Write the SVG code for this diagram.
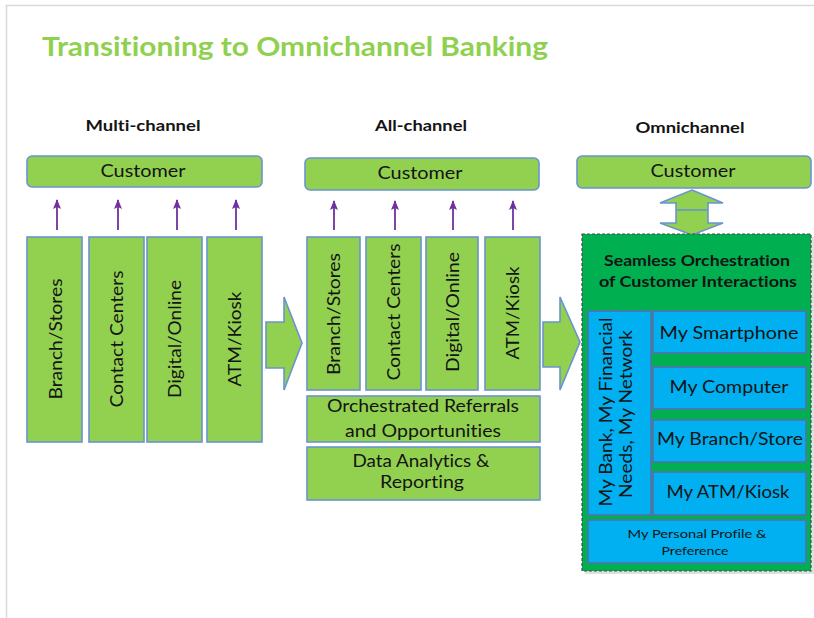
<svg xmlns="http://www.w3.org/2000/svg" width="814" height="618" viewBox="0 0 814 618">
<defs>
<style>
text{font-family:Lato,"Open Sans","Liberation Sans",sans-serif;fill:#141414;font-variant-ligatures:none}
.title{font-size:27px;font-weight:bold;fill:#8FD14F}
.hdr{font-size:16px;font-weight:bold;text-anchor:middle}
.lg{fill:#92D050;stroke:#6A94CF;stroke-width:1.6}
.bl{fill:#00B0F0;stroke:#5470B0;stroke-width:1.6}
.t17{font-size:17px;text-anchor:middle}
.t18{font-size:18px;text-anchor:middle}
.sm{font-size:12px;text-anchor:middle}
.sb{font-size:15px;font-weight:bold;text-anchor:middle}
.parr{stroke:#7030A0;stroke-width:1.8;fill:none}
.blk{fill:#92D050;stroke:#6A94CF;stroke-width:1.6;stroke-linejoin:miter}
</style>
<marker id="ah" viewBox="0 0 10 10" refX="9" refY="5" markerWidth="10" markerHeight="10" markerUnits="userSpaceOnUse" orient="auto">
<path d="M0,1 L10,5 L0,9 L2,5 Z" fill="#7030A0"/>
</marker>
</defs>
<rect x="0" y="0" width="814" height="618" fill="#ffffff"/>
<rect x="6.5" y="5.5" width="900" height="700" fill="none" stroke="#d9d9d9" stroke-width="1.5"/>
<text class="title" x="42" y="56" textLength="506" lengthAdjust="spacingAndGlyphs">Transitioning to Omnichannel Banking</text>

<text class="hdr" x="143" y="131" textLength="115" lengthAdjust="spacingAndGlyphs">Multi-channel</text>
<text class="hdr" x="421" y="131" textLength="92" lengthAdjust="spacingAndGlyphs">All-channel</text>
<text class="hdr" x="690" y="133" textLength="109" lengthAdjust="spacingAndGlyphs">Omnichannel</text>

<g id="multi-customer"><rect class="lg" x="27" y="156" width="235" height="31" rx="5"/><text class="t17" x="143" y="177" textLength="85" lengthAdjust="spacingAndGlyphs">Customer</text></g>
<g id="all-customer"><rect class="lg" x="305" y="158" width="234" height="32" rx="5"/><text class="t17" x="420" y="179" textLength="85" lengthAdjust="spacingAndGlyphs">Customer</text></g>
<g id="omni-customer"><rect class="lg" x="577" y="156" width="234" height="32" rx="5"/><text class="t17" x="693" y="177" textLength="85" lengthAdjust="spacingAndGlyphs">Customer</text></g>

<g id="m-branch"><rect class="lg" x="27" y="237" width="55" height="205"/><text class="t18" transform="translate(62,339) rotate(-90)" textLength="121" lengthAdjust="spacingAndGlyphs">Branch/Stores</text></g>
<g id="m-contact"><rect class="lg" x="89" y="237" width="55" height="205"/><text class="t18" transform="translate(123,339) rotate(-90)" textLength="137" lengthAdjust="spacingAndGlyphs">Contact Centers</text></g>
<g id="m-digital"><rect class="lg" x="147" y="237" width="55" height="205"/><text class="t18" transform="translate(181,339) rotate(-90)" textLength="118" lengthAdjust="spacingAndGlyphs">Digital/Online</text></g>
<g id="m-atm"><rect class="lg" x="207" y="237" width="55" height="205"/><text class="t18" transform="translate(241,339) rotate(-90)" textLength="95" lengthAdjust="spacingAndGlyphs">ATM/Kiosk</text></g>

<g id="a-branch"><rect class="lg" x="307" y="237" width="53" height="153"/><text class="t18" transform="translate(340,314) rotate(-90)" textLength="122" lengthAdjust="spacingAndGlyphs">Branch/Stores</text></g>
<g id="a-contact"><rect class="lg" x="366" y="237" width="55" height="153"/><text class="t18" transform="translate(400,312) rotate(-90)" textLength="137" lengthAdjust="spacingAndGlyphs">Contact Centers</text></g>
<g id="a-digital"><rect class="lg" x="426" y="237" width="52" height="153"/><text class="t18" transform="translate(459,312) rotate(-90)" textLength="120" lengthAdjust="spacingAndGlyphs">Digital/Online</text></g>
<g id="a-atm"><rect class="lg" x="485" y="237" width="55" height="153"/><text class="t18" transform="translate(519,313) rotate(-90)" textLength="93" lengthAdjust="spacingAndGlyphs">ATM/Kiosk</text></g>
<g id="a-orchestrated"><rect class="lg" x="307" y="396" width="233" height="46"/><text class="t17" x="423" y="412" textLength="192" lengthAdjust="spacingAndGlyphs">Orchestrated Referrals</text><text class="t17" x="423" y="437" textLength="156" lengthAdjust="spacingAndGlyphs">and Opportunities</text></g>
<g id="a-data"><rect class="lg" x="307" y="447" width="233" height="53"/><text class="t17" x="421" y="467" textLength="137" lengthAdjust="spacingAndGlyphs">Data Analytics &amp;</text><text class="t17" x="422" y="488" textLength="84" lengthAdjust="spacingAndGlyphs">Reporting</text></g>

<g id="connectors">
<line class="parr" x1="57" y1="230" x2="57" y2="200" marker-end="url(#ah)"/>
<line class="parr" x1="118" y1="230" x2="118" y2="200" marker-end="url(#ah)"/>
<line class="parr" x1="177" y1="230" x2="177" y2="200" marker-end="url(#ah)"/>
<line class="parr" x1="236" y1="230" x2="236" y2="200" marker-end="url(#ah)"/>
<line class="parr" x1="334" y1="230" x2="334" y2="201" marker-end="url(#ah)"/>
<line class="parr" x1="395" y1="230" x2="395" y2="201" marker-end="url(#ah)"/>
<line class="parr" x1="453" y1="230" x2="453" y2="201" marker-end="url(#ah)"/>
<line class="parr" x1="513" y1="230" x2="513" y2="201" marker-end="url(#ah)"/>
<polygon class="blk" points="266,322 284,322 284,297 302,343 284,390 284,368 266,368"/>
<polygon class="blk" points="543,322 560,322 560,297 580,342 560,390 560,367 543,367"/>
<polygon class="blk" points="692,190 723,203 708,203 708,223 723,223 692,235 660,223 676,223 676,203 660,203"/>
<line x1="676" y1="210" x2="708" y2="210" stroke="#6A94CF" stroke-width="1.6"/>
</g>

<g id="omni-container">
<rect x="585" y="237" width="229" height="337" fill="#000" opacity="0.12"/>
<rect x="582" y="234" width="229" height="337" fill="#00B050" stroke="#4a4a4a" stroke-width="1.2" stroke-dasharray="3,2"/>
<text class="sb" x="697" y="266" textLength="186" lengthAdjust="spacingAndGlyphs">Seamless Orchestration</text>
<text class="sb" x="698" y="287" textLength="198" lengthAdjust="spacingAndGlyphs">of Customer Interactions</text>
</g>
<g id="o-mybank"><rect class="bl" x="588" y="311" width="63" height="204"/><text class="t18" transform="translate(612,412) rotate(-90)" textLength="189" lengthAdjust="spacingAndGlyphs">My Bank, My Financial</text><text class="t18" transform="translate(632,414) rotate(-90)" textLength="168" lengthAdjust="spacingAndGlyphs">Needs, My Network</text></g>
<g id="o-smartphone"><rect class="bl" x="653" y="311" width="153" height="42"/><text class="t18" x="729" y="339" textLength="139" lengthAdjust="spacingAndGlyphs">My Smartphone</text></g>
<g id="o-computer"><rect class="bl" x="653" y="367" width="153" height="42"/><text class="t18" x="729" y="393" textLength="119" lengthAdjust="spacingAndGlyphs">My Computer</text></g>
<g id="o-branch"><rect class="bl" x="653" y="420" width="153" height="42"/><text class="t18" x="730" y="445" textLength="146" lengthAdjust="spacingAndGlyphs">My Branch/Store</text></g>
<g id="o-atm"><rect class="bl" x="653" y="472" width="153" height="43"/><text class="t18" x="728" y="498" textLength="123" lengthAdjust="spacingAndGlyphs">My ATM/Kiosk</text></g>
<g id="o-profile"><rect class="bl" x="588" y="520" width="218" height="43"/><text class="sm" x="697" y="538" textLength="139" lengthAdjust="spacingAndGlyphs">My Personal Profile &amp;</text><text class="sm" x="695" y="555" textLength="67" lengthAdjust="spacingAndGlyphs">Preference</text></g>
</svg>
